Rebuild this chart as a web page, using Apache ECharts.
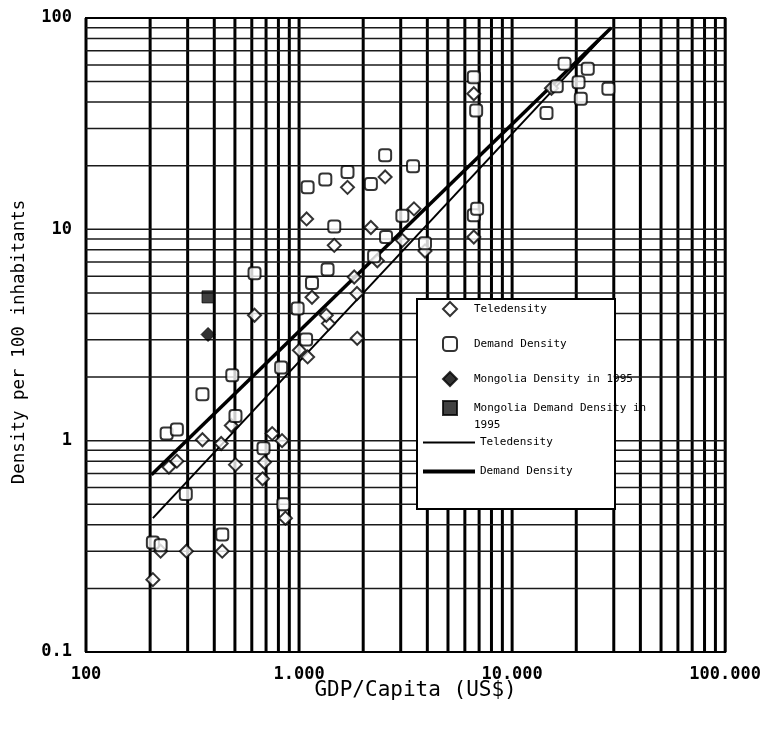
<!DOCTYPE html>
<html><head><meta charset="utf-8">
<script src="https://cdn.jsdelivr.net/npm/echarts@6/dist/echarts.min.js"></script>
<style>html,body{margin:0;padding:0;background:#fff}#c{width:764px;height:733px}</style>
</head><body><div id="c"></div>
<script>
// ---- axis ticks ----
const xTickValues = [100, 1000, 10000, 100000];
const xTickLabels = ['100', '1.000', '10.000', '100.000'];
const yTickValues = [0.1, 1, 10, 100];
const yTickLabels = ['0.1', '1', '10', '100'];
// grid lines (log minor/major)
const xGridValues = [100,200,300,400,500,600,700,800,900,1000,2000,3000,4000,5000,6000,7000,8000,9000,10000,20000,30000,40000,50000,60000,70000,80000,90000,100000];
const yGridValues = [0.2,0.3,0.4,0.5,0.6,0.7,0.8,0.9,1,2,3,4,5,6,7,8,9,10,20,30,40,50,60,70,80,90];

// ---- data: [GDP per capita (US$), density per 100 inhabitants] ----
const teledensity = [
  [206,0.22],[224,0.30],[296,0.30],[436,0.30],[863,0.43],[674,0.66],[245,0.75],[267,0.80],
  [503,0.77],[688,0.79],[431,0.97],[352,1.01],[832,1.0],[748,1.08],[481,1.18],[1097,2.49],
  [1003,2.68],[1875,3.05],[1374,3.58],[1342,3.92],[618,3.92],[1150,4.77],[1870,4.97],[1815,5.95],
  [2330,7.1],[3900,7.9],[1463,8.4],[3054,8.87],[6610,9.2],[2173,10.2],[1085,11.2],[3463,12.5],
  [1688,15.8],[2535,17.7],[6610,43.8],[15300,46.5]
];
const demandDensity = [
  [206,0.33],[224,0.32],[436,0.36],[844,0.50],[294,0.56],[681,0.92],[239,1.08],[267,1.13],
  [503,1.31],[352,1.66],[486,2.04],[824,2.22],[1079,3.01],[985,4.22],[1150,5.57],[618,6.2],
  [1361,6.45],[2250,7.45],[3900,8.6],[2560,9.2],[1463,10.3],[3054,11.6],[6610,11.65],[6850,12.5],
  [1097,15.8],[2173,16.4],[1328,17.2],[1688,18.7],[3427,19.9],[2535,22.4],[6780,36.5],[14500,35.5],
  [6610,52.5],[21000,41.5],[28300,46.3],[20500,49.7],[22650,57.5],[17620,60.7],[16200,47.5]
];
const mongoliaDensity = [[374,3.18]];
const mongoliaDemand = [[374,4.79]];
const teleFit = [[206,0.43],[29200,90]];
const demandFit = [[203,0.69],[29200,90]];

const legendText = {
  'Teledensity': 'Teledensity',
  'Demand Density': 'Demand Density',
  'Mongolia Density in 1995': 'Mongolia Density in 1995',
  'Mongolia Demand Density in 1995': '\nMongolia Demand Density in\n1995',
  'Teledensity trend': 'Teledensity',
  'Demand Density trend': 'Demand Density'
};

function pickLabel(values, labels, v) {
  let best = 0, bd = Infinity;
  for (let i = 0; i < values.length; i++) {
    const d = Math.abs(Math.log10(v) - Math.log10(values[i]));
    if (d < bd) { bd = d; best = i; }
  }
  return bd < 0.01 ? labels[best] : '';
}

const chart = echarts.init(document.getElementById('c'), null, {renderer: 'canvas'});
const MONO = '"DejaVu Sans Mono", monospace';
const legendFont = {fontFamily: MONO, fontSize: 11, color: '#000'};

chart.setOption({
  animation: false,
  backgroundColor: '#fff',
  grid: {left: 86, right: 37, top: 18, bottom: 81, show: true, borderColor: '#000', borderWidth: 2, backgroundColor: 'transparent'},
  xAxis: {
    type: 'log', logBase: 10, min: 100, max: 100000,
    name: 'GDP/Capita (US$)', nameLocation: 'middle', nameGap: 28, nameMoveOverlap: false,
    nameTextStyle: {fontFamily: MONO, fontSize: 21, color: '#000', padding: [0, 0, 0, 20]},
    axisLine: {show: false}, axisTick: {show: false}, splitLine: {show: false},
    axisLabel: {margin: 14, fontFamily: MONO, fontSize: 17, fontWeight: 'bold', color: '#000',
      formatter: v => pickLabel(xTickValues, xTickLabels, v)}
  },
  yAxis: {
    type: 'log', logBase: 10, min: 0.1, max: 100,
    name: 'Density per 100 inhabitants', nameLocation: 'middle', nameGap: 58, nameMoveOverlap: false,
    nameTextStyle: {fontFamily: MONO, fontSize: 17.5, color: '#000', padding: [0, 14, 0, 0]},
    axisLine: {show: false}, axisTick: {show: false}, splitLine: {show: false},
    axisLabel: {margin: 14, fontFamily: MONO, fontSize: 17, fontWeight: 'bold', color: '#000',
      formatter: v => pickLabel(yTickValues, yTickLabels, v)}
  },
  legend: [
    {
      orient: 'vertical', left: 442, top: 301, itemWidth: 14, itemHeight: 14, itemGap: 19,
      z: 200, padding: 0, selectedMode: false,
      textStyle: Object.assign({padding: [0, 0, 0, 12]}, legendFont),
      formatter: n => legendText[n],
      data: [
        {name: 'Teledensity', icon: 'diamond'},
        {name: 'Demand Density', icon: 'roundRect'},
        {name: 'Mongolia Density in 1995', icon: 'diamond'}
      ]
    },
    {
      orient: 'vertical', left: 442, top: 382.5, itemWidth: 14, itemHeight: 14,
      z: 200, padding: 0, selectedMode: false,
      textStyle: Object.assign({padding: [0, 0, 0, 12], lineHeight: 17}, legendFont),
      formatter: n => legendText[n],
      data: [{name: 'Mongolia Demand Density in 1995', icon: 'rect'}]
    },
    {
      orient: 'vertical', left: 423, top: 437, itemWidth: 52, itemHeight: 2,
      z: 200, padding: 0, selectedMode: false,
      textStyle: legendFont,
      formatter: n => legendText[n],
      data: [{name: 'Teledensity trend', icon: 'rect'}]
    },
    {
      orient: 'vertical', left: 423, top: 466, itemWidth: 52, itemHeight: 4,
      z: 200, padding: 0, selectedMode: false,
      textStyle: legendFont,
      formatter: n => legendText[n],
      data: [{name: 'Demand Density trend', icon: 'rect'}]
    }
  ],
  graphic: [{
    type: 'rect', z: 100, left: 416, top: 298,
    shape: {width: 198, height: 210},
    style: {fill: '#fff', stroke: '#000', lineWidth: 2}
  }],
  series: [
    {
      type: 'custom', name: 'vgrid', silent: true, clip: false, z: 1,
      data: xGridValues.map(v => [v, 1]),
      renderItem: (params, api) => {
        const v = api.value(0);
        const a = api.coord([v, 0.1]), b = api.coord([v, 100]);
        return {type: 'line', shape: {x1: a[0], y1: a[1], x2: b[0], y2: b[1]}, style: {stroke: '#000', lineWidth: 3}};
      }
    },
    {
      type: 'custom', name: 'hgrid', silent: true, clip: false, z: 1,
      data: yGridValues.map(v => [1000, v]),
      renderItem: (params, api) => {
        const v = api.value(1);
        const a = api.coord([100, v]), b = api.coord([100000, v]);
        return {type: 'line', shape: {x1: a[0], y1: a[1], x2: b[0], y2: b[1]}, style: {stroke: '#1a1a1a', lineWidth: 1.5}};
      }
    },
    {
      type: 'line', name: 'Teledensity trend', data: teleFit, symbol: 'none', z: 3,
      lineStyle: {color: '#000', width: 2}, itemStyle: {color: '#000'}
    },
    {
      type: 'line', name: 'Demand Density trend', data: demandFit, symbol: 'none', z: 3,
      lineStyle: {color: '#000', width: 3.5}, itemStyle: {color: '#000'}
    },
    {
      type: 'scatter', name: 'Teledensity', data: teledensity, symbol: 'diamond', symbolSize: 13, z: 4,
      itemStyle: {color: '#fff', borderColor: '#000', borderWidth: 2}
    },
    {
      type: 'scatter', name: 'Demand Density', data: demandDensity, symbol: 'roundRect', symbolSize: 12, z: 4,
      itemStyle: {color: '#fff', borderColor: '#000', borderWidth: 2}
    },
    {
      type: 'scatter', name: 'Mongolia Density in 1995', data: mongoliaDensity, symbol: 'diamond', symbolSize: 14, z: 5,
      itemStyle: {color: '#000', borderColor: '#000', borderWidth: 1}
    },
    {
      type: 'scatter', name: 'Mongolia Demand Density in 1995', data: mongoliaDemand, symbol: 'rect', symbolSize: 12, z: 5,
      itemStyle: {color: '#111', borderColor: '#000', borderWidth: 1}
    }
  ]
});
</script>
</body></html>
